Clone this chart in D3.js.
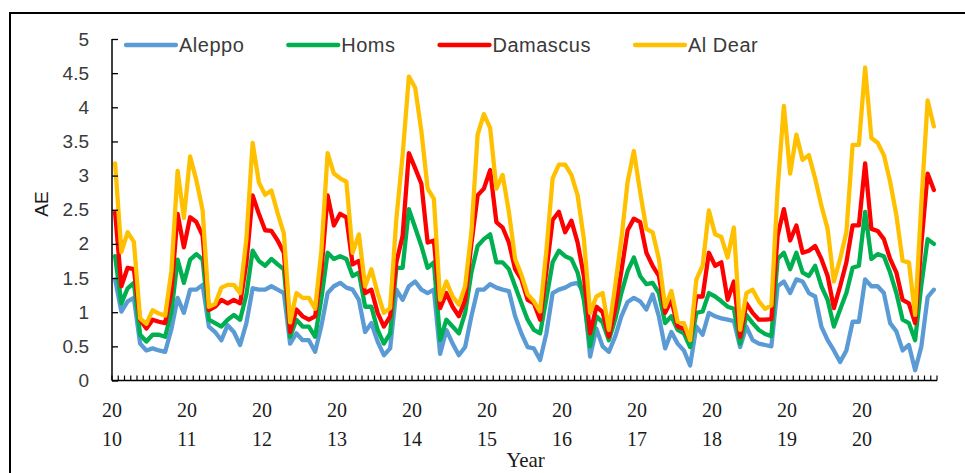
<!DOCTYPE html>
<html>
<head>
<meta charset="utf-8">
<script src="https://cdn.jsdelivr.net/npm/d3@7"></script>
<style>
  html, body { margin: 0; padding: 0; background: #fff; }
  svg { display: block; }
</style>
</head>
<body>
<svg id="chart" width="965" height="473"></svg>
<script>
// Monthly AE values, January 2010 to December 2020 (12 values per row = one year)
const years = ["2010", "2011", "2012", "2013", "2014", "2015", "2016", "2017", "2018", "2019", "2020"];

const aleppo = [
  1.48, 1.01, 1.16, 1.21, 0.54, 0.44, 0.47, 0.44, 0.42, 0.75, 1.21, 0.99,
  1.33, 1.33, 1.40, 0.79, 0.71, 0.59, 0.81, 0.71, 0.52, 0.84, 1.35, 1.33,
  1.33, 1.38, 1.33, 1.28, 0.54, 0.69, 0.59, 0.59, 0.42, 0.80, 1.28, 1.38,
  1.43, 1.36, 1.33, 1.18, 0.71, 0.84, 0.57, 0.37, 0.47, 1.33, 1.18, 1.38,
  1.45, 1.33, 1.28, 1.33, 0.39, 0.74, 0.54, 0.37, 0.49, 0.94, 1.33, 1.33,
  1.41, 1.36, 1.33, 1.31, 0.94, 0.69, 0.49, 0.47, 0.30, 0.69, 1.28, 1.33,
  1.36, 1.41, 1.43, 1.28, 0.35, 0.76, 0.50, 0.42, 0.64, 0.94, 1.15, 1.21,
  1.16, 1.04, 1.26, 0.94, 0.47, 0.71, 0.54, 0.44, 0.22, 0.79, 0.67, 0.99,
  0.94, 0.91, 0.89, 0.87, 0.49, 0.79, 0.59, 0.54, 0.52, 0.50, 1.38, 1.45,
  1.28, 1.48, 1.45, 1.28, 1.23, 0.79, 0.59, 0.44, 0.27, 0.44, 0.86, 0.86,
  1.48, 1.38, 1.38, 1.28, 0.84, 0.72, 0.44, 0.52, 0.15, 0.50, 1.22, 1.33
];

const homs = [
  1.82, 1.13, 1.35, 1.43, 0.67, 0.57, 0.67, 0.67, 0.64, 1.00, 1.77, 1.43,
  1.77, 1.85, 1.77, 0.89, 0.84, 0.79, 0.89, 0.96, 0.89, 1.26, 1.90, 1.75,
  1.68, 1.78, 1.70, 1.63, 0.64, 0.89, 0.79, 0.79, 0.64, 1.20, 1.87, 1.78,
  1.82, 1.78, 1.53, 1.58, 1.08, 1.08, 0.74, 0.54, 0.69, 1.65, 1.65, 2.51,
  2.24, 1.97, 1.65, 1.73, 0.59, 0.89, 0.79, 0.69, 0.99, 1.58, 1.97, 2.07,
  2.14, 1.73, 1.73, 1.63, 1.38, 1.13, 0.89, 0.74, 0.69, 1.20, 1.73, 1.90,
  1.82, 1.78, 1.58, 1.18, 0.50, 0.94, 0.85, 0.59, 0.89, 1.28, 1.60, 1.80,
  1.53, 1.41, 1.43, 1.28, 0.84, 0.94, 0.74, 0.69, 0.49, 0.99, 1.01, 1.28,
  1.23, 1.16, 1.08, 1.05, 0.54, 0.96, 0.84, 0.74, 0.68, 0.65, 1.78, 1.87,
  1.63, 1.87, 1.58, 1.53, 1.68, 1.38, 1.18, 0.79, 1.04, 1.28, 1.65, 1.68,
  2.47, 1.78, 1.85, 1.82, 1.58, 1.28, 0.89, 0.84, 0.59, 1.40, 2.07, 2.00
];

const damascus = [
  2.46, 1.38, 1.65, 1.63, 0.89, 0.76, 0.89, 0.86, 0.84, 1.30, 2.44, 1.95,
  2.39, 2.32, 2.12, 1.03, 1.08, 1.18, 1.13, 1.18, 1.13, 1.72, 2.71, 2.44,
  2.20, 2.19, 2.05, 1.87, 0.71, 1.04, 0.94, 0.89, 0.94, 1.60, 2.71, 2.27,
  2.44, 2.39, 1.70, 1.75, 1.28, 1.33, 0.99, 0.79, 0.94, 1.73, 2.12, 3.33,
  3.11, 2.88, 2.02, 2.05, 1.06, 1.28, 1.08, 0.94, 1.18, 2.00, 2.71, 2.81,
  3.08, 2.32, 2.24, 2.02, 1.63, 1.48, 1.18, 1.13, 0.89, 1.60, 2.35, 2.47,
  2.17, 2.34, 2.02, 1.53, 0.69, 1.08, 1.00, 0.64, 1.04, 1.60, 2.20, 2.37,
  2.32, 1.87, 1.68, 1.53, 0.99, 1.18, 0.79, 0.76, 0.59, 1.23, 1.23, 1.87,
  1.68, 1.73, 1.18, 1.45, 0.64, 1.13, 0.99, 0.89, 0.89, 0.90, 2.12, 2.51,
  2.05, 2.27, 1.87, 1.90, 1.97, 1.78, 1.53, 1.06, 1.38, 1.73, 2.27, 2.27,
  3.18, 2.22, 2.19, 2.07, 1.78, 1.58, 1.18, 1.13, 0.84, 2.00, 3.03, 2.79
];

const alDear = [
  3.18, 1.88, 2.17, 2.03, 0.91, 0.83, 1.03, 0.98, 0.95, 1.60, 3.07, 2.38,
  3.28, 2.93, 2.49, 1.08, 1.12, 1.36, 1.40, 1.40, 1.28, 2.07, 3.48, 2.90,
  2.72, 2.78, 2.45, 2.15, 0.85, 1.28, 1.21, 1.21, 1.05, 1.90, 3.33, 3.03,
  2.96, 2.91, 1.87, 2.14, 1.38, 1.63, 1.28, 0.99, 1.06, 2.37, 3.30, 4.45,
  4.29, 3.65, 2.81, 2.66, 1.18, 1.45, 1.23, 1.11, 1.38, 2.17, 3.60, 3.90,
  3.70, 2.81, 3.01, 2.47, 1.78, 1.55, 1.26, 1.16, 1.01, 1.90, 2.96, 3.16,
  3.16, 3.01, 2.71, 2.07, 0.99, 1.23, 1.28, 0.74, 1.38, 2.07, 2.91, 3.36,
  2.76, 2.22, 2.17, 1.78, 1.08, 1.31, 0.86, 0.84, 0.59, 1.48, 1.68, 2.49,
  2.14, 2.10, 1.80, 2.24, 0.74, 1.28, 1.33, 1.16, 1.05, 1.10, 2.80, 4.02,
  3.03, 3.60, 3.23, 3.30, 2.96, 2.56, 2.22, 1.45, 1.78, 2.17, 3.45, 3.45,
  4.58, 3.55, 3.48, 3.30, 2.91, 2.42, 1.75, 1.73, 0.96, 2.60, 4.10, 3.72
];

const seriesNames = ["Aleppo", "Homs", "Damascus", "Al Dear"];
const seriesValues = [aleppo, homs, damascus, alDear];
const yTickValues = [0, 0.5, 1, 1.5, 2, 2.5, 3, 3.5, 4, 4.5, 5];

const color = d3.scaleOrdinal()
  .domain(seriesNames)
  .range(["#5b9bd5", "#00b050", "#ff0000", "#ffc000"]);

const svg = d3.select("#chart");
const plot = { left: 112, right: 937, top: 39, bottom: 380.5 };

// One band per month; points sit at band centres, year labels at January's band edge
const months = d3.range(aleppo.length);
const x = d3.scaleBand().domain(months).range([plot.left, plot.right]);
const xc = i => x(i) + x.bandwidth() / 2;
const y = d3.scaleLinear().domain([0, 5]).range([plot.bottom, plot.top]);

// outer frame (top and left edges of the chart border)
svg.append("path")
  .attr("d", `M10,473 L10,13 L965,13`)
  .attr("fill", "none")
  .attr("stroke", "#000")
  .attr("stroke-width", 2);

// series lines, first series underneath
const line = d3.line()
  .x((d, i) => xc(i))
  .y(d => y(d));

svg.append("g")
  .selectAll("path")
  .data(seriesNames)
  .join("path")
  .attr("d", (name, k) => line(seriesValues[k]))
  .attr("fill", "none")
  .attr("stroke", name => color(name))
  .attr("stroke-width", 4.3)
  .attr("stroke-linejoin", "round")
  .attr("stroke-linecap", "round");

// Y axis: inside ticks, labels on the left
const yAxis = d3.axisRight(y)
  .tickValues(yTickValues)
  .tickSize(6)
  .tickFormat(() => "");
const gy = svg.append("g")
  .attr("transform", `translate(${plot.left},0)`)
  .call(yAxis);
gy.select(".domain").attr("stroke", "#000").attr("stroke-width", 1.5)
  .attr("d", `M0,${plot.top}V${plot.bottom}`);
gy.selectAll(".tick line").attr("stroke", "#000").attr("stroke-width", 1.3);

svg.append("g")
  .selectAll("text")
  .data(yTickValues)
  .join("text")
  .attr("x", plot.left - 23)
  .attr("y", d => y(d))
  .attr("text-anchor", "end")
  .attr("dominant-baseline", "central")
  .attr("font-family", "Liberation Sans, Arial, sans-serif")
  .attr("font-size", 19)
  .attr("fill", "#3a3a3a")
  .text(d => d3.format("")(d));

// X axis: tick marks at every month boundary, pointing up
const boundaries = d3.range(months.length + 1).map(i => plot.left + i * x.bandwidth());
const gx = svg.append("g");
gx.append("line")
  .attr("x1", plot.left).attr("x2", plot.right)
  .attr("y1", plot.bottom).attr("y2", plot.bottom)
  .attr("stroke", "#000").attr("stroke-width", 1.5);
gx.selectAll("line.tick")
  .data(boundaries)
  .join("line")
  .attr("class", "tick")
  .attr("x1", d => d).attr("x2", d => d)
  .attr("y1", plot.bottom).attr("y2", plot.bottom - 5)
  .attr("stroke", "#000").attr("stroke-width", 1.2);

// year labels, wrapped onto two lines
const yearLabels = svg.append("g")
  .selectAll("text")
  .data(years)
  .join("text")
  .attr("text-anchor", "middle")
  .attr("font-family", "Liberation Serif, Times New Roman, serif")
  .attr("font-size", 20)
  .attr("fill", "#1a1a1a");
yearLabels.append("tspan")
  .attr("x", (d, k) => x(k * 12))
  .attr("y", 417)
  .text(d => d.slice(0, 2));
yearLabels.append("tspan")
  .attr("x", (d, k) => x(k * 12))
  .attr("y", 446)
  .text(d => d.slice(2));

// axis titles
svg.append("text")
  .attr("x", (plot.left + plot.right) / 2 + 1)
  .attr("y", 467)
  .attr("text-anchor", "middle")
  .attr("font-family", "Liberation Serif, Times New Roman, serif")
  .attr("font-size", 21)
  .attr("fill", "#1a1a1a")
  .text("Year");

svg.append("text")
  .attr("transform", "translate(41,204) rotate(-90)")
  .attr("text-anchor", "middle")
  .attr("dominant-baseline", "central")
  .attr("font-family", "Liberation Sans, Arial, sans-serif")
  .attr("font-size", 19)
  .attr("fill", "#1a1a1a")
  .text("AE");

// legend across the top of the plot
const legend = svg.append("g");
let cursor = 126;
seriesNames.forEach(name => {
  const item = legend.append("g");
  item.append("line")
    .attr("x1", cursor).attr("x2", cursor + 50)
    .attr("y1", 45).attr("y2", 45)
    .attr("stroke", color(name))
    .attr("stroke-width", 4.3)
    .attr("stroke-linecap", "round");
  const t = item.append("text")
    .attr("x", cursor + 53)
    .attr("y", 45)
    .attr("dominant-baseline", "central")
    .attr("font-family", "Liberation Sans, Arial, sans-serif")
    .attr("font-size", 20)
    .attr("letter-spacing", 0.5)
    .attr("fill", "#3a3a3a")
    .text(name);
  cursor += 53 + t.node().getComputedTextLength() + 44;
});
</script>
</body>
</html>
